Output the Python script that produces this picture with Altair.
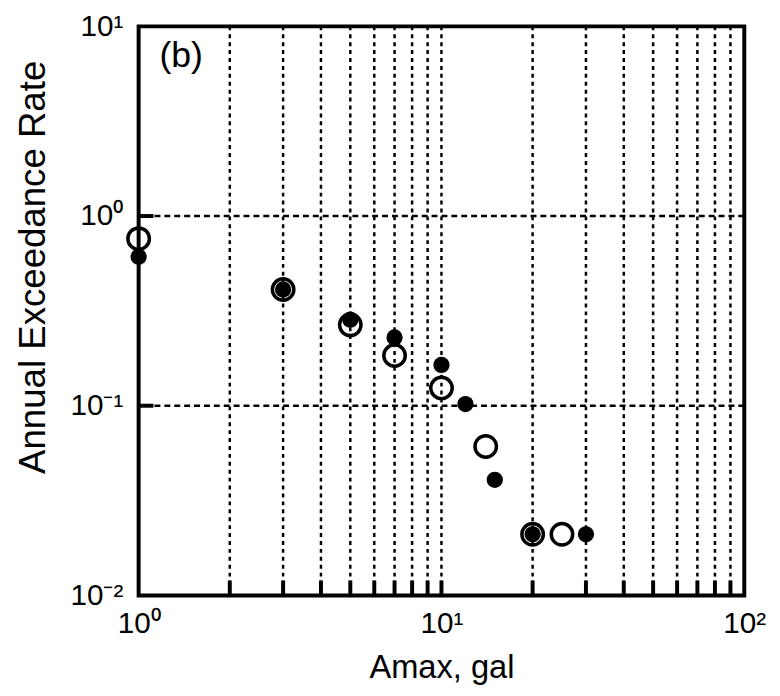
import altair as alt
import pandas as pd

# Data
open_x = [1, 3, 5, 7, 10, 14, 20, 25]
open_y = [0.76, 0.41, 0.267, 0.184, 0.124, 0.061, 0.021, 0.021]
filled_x = [1, 3, 5, 7, 10, 12, 15, 20, 30]
filled_y = [0.61, 0.41, 0.284, 0.229, 0.164, 0.102, 0.0407, 0.021, 0.021]

x_grid = [2, 3, 4, 5, 6, 7, 8, 9, 10, 20, 30, 40, 50, 60, 70, 80, 90]
y_grid = [1, 0.1]
x_label_vals = [1, 10, 100]
y_label_vals = [0.01, 0.1, 1, 10]

W, H = 612, 575
FONT = "Liberation Sans"

xs = alt.Scale(type="log", domain=[1, 100], nice=False)
ys = alt.Scale(type="log", domain=[0.01, 10], nice=False)

x_axis = alt.Axis(
    values=x_label_vals, grid=False, ticks=False, domain=False,
    labelExpr="datum.value < 5 ? '10⁰' : datum.value < 50 ? '10¹' : '10²'",
    labelFontSize=30, labelFont=FONT, labelColor="black", labelPadding=13,
    labelFlush=False,
    title="Amax, gal", titleFontSize=33, titleFont=FONT, titleFontWeight="normal",
    titleColor="black", titleBaseline="top", titleY=57, titleX=W / 2,
)
y_axis = alt.Axis(
    values=y_label_vals, grid=False, ticks=False, domain=False,
    labelExpr="datum.value > 5 ? '10¹' : datum.value > 0.5 ? '10⁰' : datum.value > 0.05 ? '10⁻¹' : '10⁻²'",
    labelFontSize=30, labelFont=FONT, labelColor="black", labelPadding=16,
    labelFlush=False,
    title="Annual Exceedance Rate", titleFontSize=37, titleFont=FONT,
    titleFontWeight="normal", titleColor="black",
    titleAngle=270, titleAlign="center", titleBaseline="middle",
    titleX=-106, titleY=243,
)

xgrid_df = pd.DataFrame({"x": x_grid})
ygrid_df = pd.DataFrame({"y": y_grid})
open_df = pd.DataFrame({"x": open_x, "y": open_y})
filled_df = pd.DataFrame({"x": filled_x, "y": filled_y})

vgrid = alt.Chart(xgrid_df).mark_rule(color="black", strokeWidth=2.5, strokeDash=[4, 4]).encode(
    x=alt.X("x:Q", scale=xs, axis=x_axis)
)
hgrid = alt.Chart(ygrid_df).mark_rule(color="black", strokeWidth=2.5, strokeDash=[6, 4]).encode(
    y=alt.Y("y:Q", scale=ys, axis=y_axis)
)
xticks = alt.Chart(xgrid_df).mark_rule(color="black", strokeWidth=4).encode(
    x=alt.X("x:Q", scale=xs), y=alt.value(H), y2=alt.value(H - 15)
)
yticks = alt.Chart(ygrid_df).mark_rule(color="black", strokeWidth=4).encode(
    y=alt.Y("y:Q", scale=ys), x=alt.value(0), x2=alt.value(15)
)
opens = alt.Chart(open_df).mark_point(
    shape="circle", filled=False, color="black", strokeWidth=3.5, size=470, opacity=1
).encode(x=alt.X("x:Q", scale=xs), y=alt.Y("y:Q", scale=ys))
filleds = alt.Chart(filled_df).mark_circle(color="black", size=270, opacity=1).encode(
    x=alt.X("x:Q", scale=xs), y=alt.Y("y:Q", scale=ys)
)
label = alt.Chart(pd.DataFrame({"t": ["(b)"]})).mark_text(
    font=FONT, fontSize=36, color="black", align="left", baseline="top"
).encode(text="t:N", x=alt.value(21), y=alt.value(13))

chart = alt.layer(vgrid, hgrid, xticks, yticks, opens, filleds, label).properties(
    width=W, height=H,
    background="white",
    autosize=alt.AutoSizeParams(type="none"),
    padding={"left": 132, "top": 15, "right": 28, "bottom": 90},
).configure_view(stroke="black", strokeWidth=4)

chart.save("out.html", embed_options={"renderer": "svg", "actions": False})
